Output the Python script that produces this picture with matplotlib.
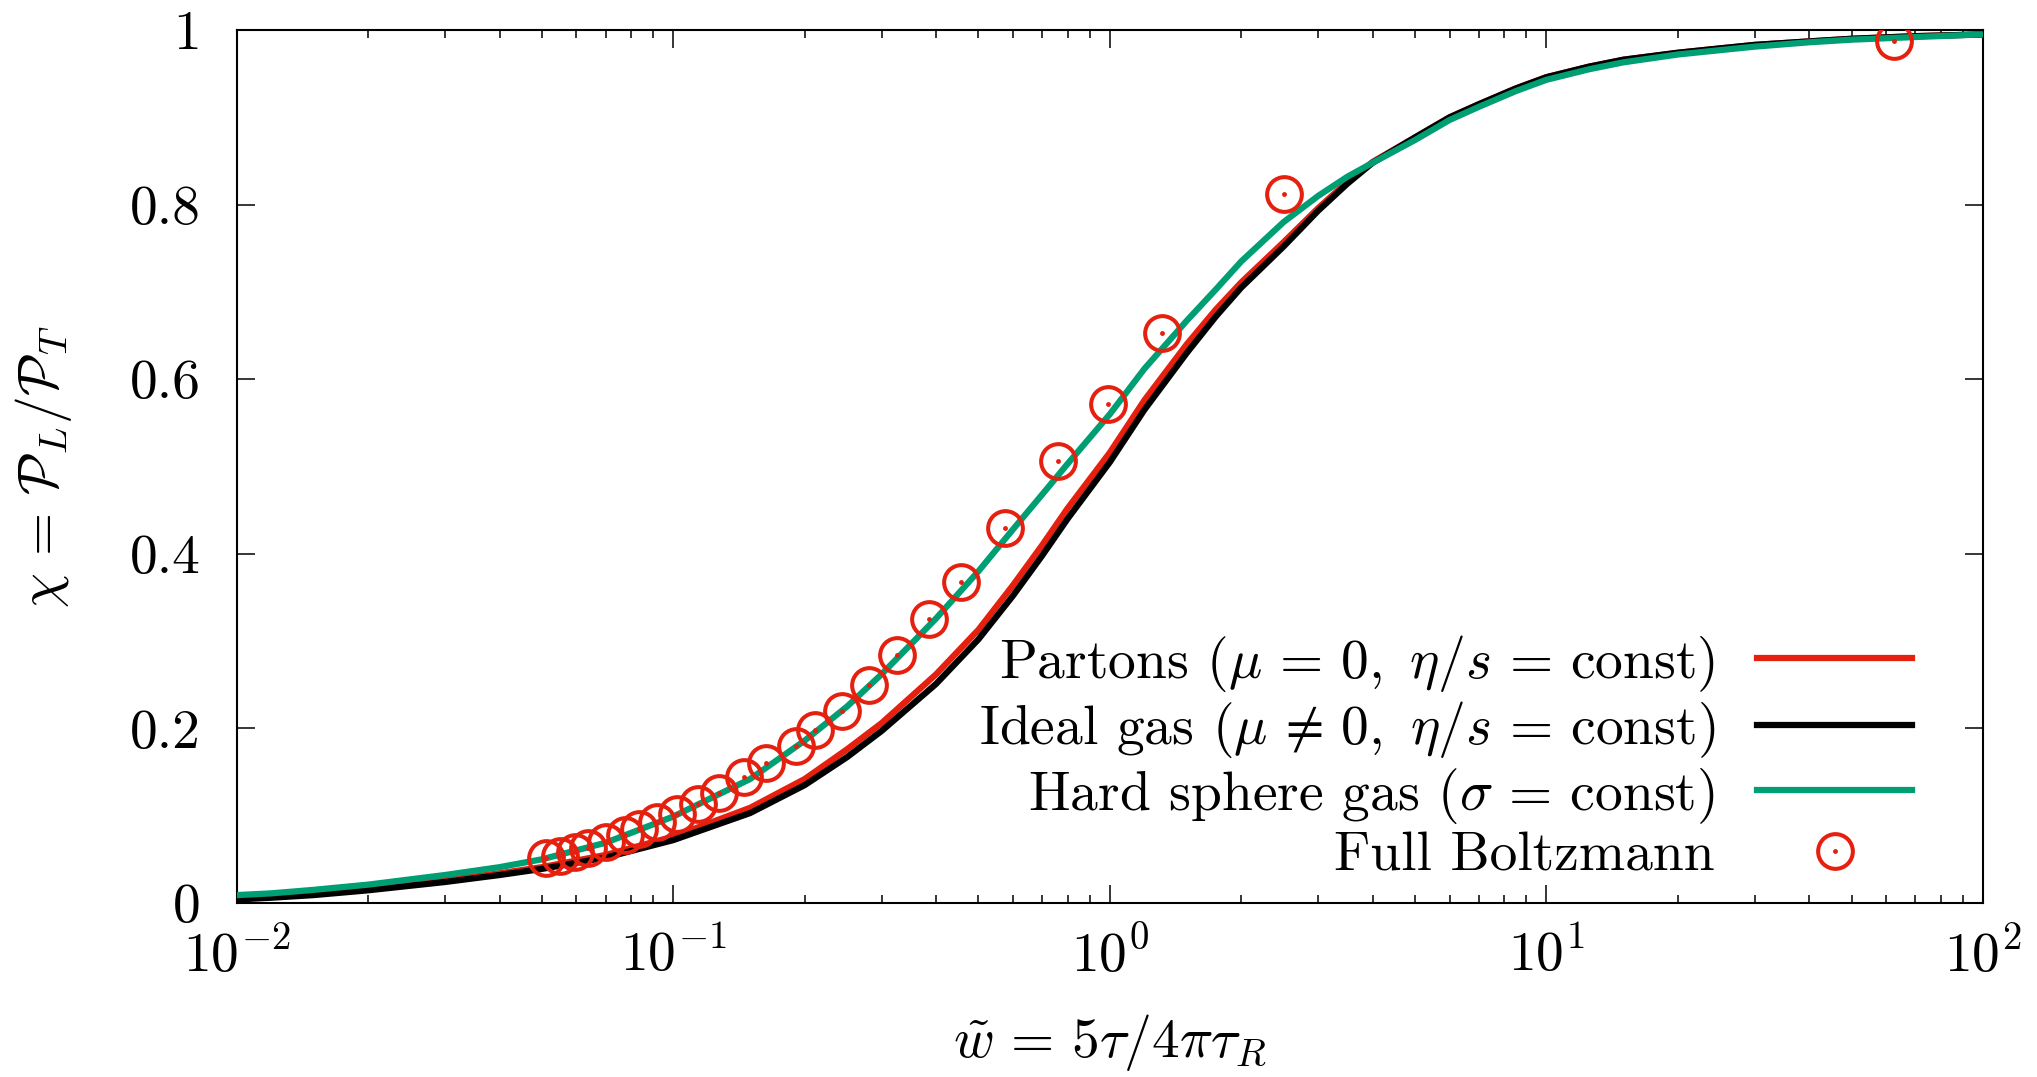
import matplotlib
matplotlib.use('Agg')
from matplotlib import pyplot as plt
from matplotlib.legend_handler import HandlerTuple

# fonts: computer modern look
plt.rcParams['font.family'] = 'serif'
plt.rcParams['font.serif'] = ['cmr10']
plt.rcParams['mathtext.fontset'] = 'cm'
plt.rcParams['axes.unicode_minus'] = False
plt.rcParams['axes.formatter.use_mathtext'] = True

# curves
w_curve = [0.01, 0.012, 0.015, 0.02, 0.03, 0.04, 0.05, 0.07, 0.1, 0.15, 0.2, 0.25, 0.3,
           0.4, 0.5, 0.6, 0.7, 0.8, 1.0, 1.2, 1.5, 1.75, 2.0, 2.5, 3.0, 3.5, 4.0, 5.0,
           6.0, 7.0, 8.5, 10, 12.5, 15, 20, 25, 30, 40, 50, 70, 100]
chi_partons = [0.005, 0.007, 0.010, 0.016, 0.026, 0.034, 0.041, 0.055, 0.076, 0.109,
               0.142, 0.176, 0.206, 0.262, 0.313, 0.364, 0.410, 0.452, 0.516, 0.576,
               0.640, 0.680, 0.711, 0.757, 0.796, 0.826, 0.849, 0.877, 0.900, 0.915,
               0.933, 0.946, 0.958, 0.966, 0.974, 0.979, 0.983, 0.987, 0.990, 0.993,
               0.995]
chi_ideal = [0.004, 0.006, 0.009, 0.0145, 0.024, 0.032, 0.039, 0.052, 0.072, 0.103,
             0.135, 0.167, 0.197, 0.251, 0.302, 0.352, 0.398, 0.440, 0.505, 0.565,
             0.630, 0.672, 0.705, 0.752, 0.793, 0.824, 0.848, 0.877, 0.900, 0.915,
             0.933, 0.946, 0.958, 0.966, 0.974, 0.979, 0.983, 0.987, 0.990, 0.993,
             0.995]
chi_hard = [0.009, 0.011, 0.015, 0.021, 0.032, 0.041, 0.050, 0.069, 0.099, 0.142,
            0.186, 0.225, 0.262, 0.326, 0.380, 0.428, 0.468, 0.503, 0.560, 0.612,
            0.667, 0.703, 0.735, 0.780, 0.810, 0.832, 0.848, 0.874, 0.897, 0.912,
            0.930, 0.943, 0.955, 0.963, 0.972, 0.977, 0.981, 0.986, 0.989, 0.992,
            0.995]

# full Boltzmann points
w_boltz = [0.0512, 0.055, 0.0594, 0.0638, 0.0703, 0.0774, 0.0836, 0.092, 0.102, 0.114,
           0.127, 0.145, 0.163, 0.191, 0.211, 0.243, 0.281, 0.325, 0.386, 0.457, 0.576,
           0.760, 0.99, 1.315, 2.506, 62.5]
chi_boltz = [0.051, 0.054, 0.058, 0.063, 0.070, 0.078, 0.085, 0.093, 0.102, 0.113, 0.126,
             0.144, 0.160, 0.180, 0.198, 0.220, 0.250, 0.284, 0.325, 0.368, 0.430, 0.506,
             0.572, 0.653, 0.812, 0.988]

yticks = [0, 0.2, 0.4, 0.6, 0.8, 1]
ytick_labels = ['0', '0.2', '0.4', '0.6', '0.8', '1']

red = '#e5200f'
green = '#009e73'
fs = 40

fig = plt.figure(figsize=(20.37, 10.77), dpi=100)
ax = fig.add_axes([0.1162, 0.1616, 0.8573, 0.8105])

l1, = ax.plot(w_curve, chi_partons, color=red, lw=4.5, zorder=2)
l2, = ax.plot(w_curve, chi_ideal, color='black', lw=4.5, zorder=3)
l3, = ax.plot(w_curve, chi_hard, color=green, lw=4.5, zorder=4)
c1, = ax.plot(w_boltz, chi_boltz, ls='none', marker='o', ms=25, mfc='none',
              mec=red, mew=2.9, zorder=5)
c2, = ax.plot(w_boltz, chi_boltz, ls='none', marker='o', ms=3.5, mfc=red,
              mec=red, mew=0, zorder=6)

ax.set_xscale('log')
ax.set_xlim(1e-2, 1e2)
ax.set_ylim(0, 1)
ax.set_yticks(yticks)
ax.set_yticklabels(ytick_labels)

ax.tick_params(which='both', direction='in', top=True, right=True, labelsize=fs, width=1.1)
ax.tick_params(which='major', length=13)
ax.tick_params(which='minor', length=6)
ax.tick_params(axis='y', pad=26)
ax.tick_params(axis='x', pad=18)
for s in ax.spines.values():
    s.set_linewidth(1.5)

ax.set_xlabel(r'$\tilde{w}\,=\,5\tau/4\pi\tau_R$', fontsize=fs)
ax.set_ylabel(r'$\chi\,=\,\mathcal{P}_L/\mathcal{P}_T$', fontsize=fs)
ax.xaxis.set_label_coords(0.5, -0.125)
ax.yaxis.set_label_coords(-0.093, 0.5)

leg = ax.legend([l1, l2, l3, (c1, c2)],
                [r'Partons $(\mu\,=\,0,\ \eta/s\,=\,\mathrm{const})$',
                 r'Ideal gas $(\mu\,\neq\,0,\ \eta/s\,=\,\mathrm{const})$',
                 r'Hard sphere gas $(\sigma\,=\,\mathrm{const})$',
                 'Full Boltzmann'],
                handler_map={tuple: HandlerTuple(ndivide=1)},
                loc='lower right', bbox_to_anchor=(0.9595, 0.025),
                markerfirst=False, frameon=False, fontsize=fs,
                handlelength=2.8, handletextpad=0.75, labelspacing=0.1,
                numpoints=1, borderpad=0.0, borderaxespad=0.0)

fig.savefig('out.png', dpi=100)
